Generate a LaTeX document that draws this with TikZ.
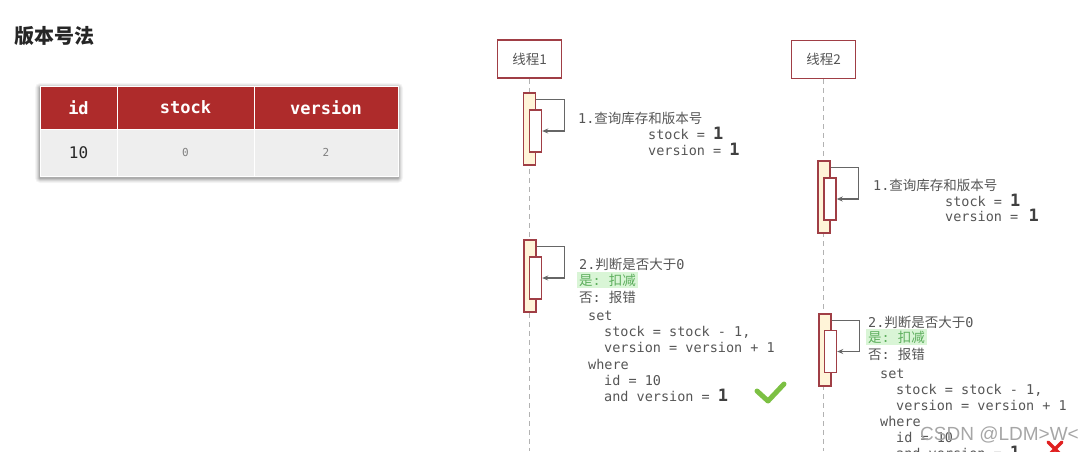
\documentclass[tikz,border=0pt]{standalone}
\usepackage{fontspec}
\setmonofont{DejaVu Sans Mono}
\newfontfamily\cjk{Noto Sans CJK SC}
\newfontfamily\wmfont{Liberation Sans}
\usetikzlibrary{arrows.meta}
\definecolor{headred}{HTML}{AE2B2B}
\definecolor{cellgray}{HTML}{EEEEEE}
\definecolor{boxred}{HTML}{A03E45}
\definecolor{barfill}{HTML}{FFF4D8}
\definecolor{codegray}{HTML}{555555}
\definecolor{okgreen}{HTML}{7CC043}
\definecolor{hlgreen}{HTML}{D9F5D6}
\definecolor{hltext}{HTML}{5DAE5D}
\definecolor{badred}{HTML}{E02020}
\newcommand{\bigone}{{\fontsize{17}{16}\selectfont\bfseries\color{black!75}1}}

\begin{document}
\begin{tikzpicture}[x=1pt, y=-1pt,
	threadbox/.style={draw=boxred, line width=1.5pt, fill=white, minimum width=64pt, minimum height=38pt, inner sep=0pt, font=\fontsize{13.5}{16}\cjk, text=codegray},
	lifeline/.style={draw=black!30, line width=1pt, dash pattern=on 5pt off 4pt},
	actouter/.style={draw=boxred, line width=1.4pt, fill=barfill, minimum width=12pt, minimum height=72pt, inner sep=0pt},
	actinner/.style={draw=boxred, line width=1.4pt, fill=white, minimum width=12pt, minimum height=42pt, inner sep=0pt},
	selfarrow/.style={draw=black!60, line width=1.2pt, -{Stealth[length=6pt,width=5pt]}},
	code/.style={anchor=base west, inner sep=0pt, text=codegray, font=\fontsize{13.5}{16}\ttfamily},
	hl/.style={code, fill=hlgreen, text=hltext, inner xsep=2pt, inner ysep=2pt},
	headcell/.style={fill=headred, draw=white, line width=0.8pt, text=white, minimum height=43pt, inner sep=0pt, font=\fontsize{17}{20}\ttfamily\bfseries},
	bodycell/.style={fill=cellgray, draw=white, line width=0.8pt, minimum height=47pt, inner sep=0pt, text=black!50, font=\fontsize{11}{13}\ttfamily}]
	\clip (0,0) rectangle (1085,451);

	% title and table
	\node[anchor=west, inner sep=0pt, font=\fontsize{20}{24}\cjk\bfseries, text=black!85] (title) at (14,36) {版本号法};
	\foreach \s/\o in {5/0.04,4/0.05,3/0.07,2/0.09,1/0.12}
		\fill[black, opacity=\o, rounded corners=\s pt] (40-\s,86-\s+2) rectangle (398+\s,176+\s+2);
	\node[headcell, minimum width=77pt] (hid) at (78.5,107.5) {id};
	\node[headcell, minimum width=137pt] (hstock) at (185.5,107.5) {stock};
	\node[headcell, minimum width=144pt] (hver) at (326,107.5) {version};
	\node[bodycell, minimum width=77pt, text=black!85, font=\fontsize{16}{18}\ttfamily] (bid) at (78.5,152.5) {10};
	\node[bodycell, minimum width=137pt] (bstock) at (185.5,152.5) {0};
	\node[bodycell, minimum width=144pt] (bver) at (326,152.5) {2};

	% threads
	\node[threadbox] (th1) at (529.5,59) {线程1};
	\node[threadbox] (th2) at (823.5,59.5) {线程2};
	\coordinate (th1end) at (529.5,451);
	\coordinate (th2end) at (823.5,451);
	\draw[lifeline] (th1.south) -- (th1end);
	\draw[lifeline] (th2.south) -- (th2end);

	% thread 1, step 1
	\node[actouter] (a1o) at (529.5,129) {};
	\node[actinner] (a1i) at (535.5,131) {};
	\draw[selfarrow] ([yshift=-7pt]a1o.north east) -- ++(28,0) |- (a1i.east);
	\node[code] (q1a) at (578,123) {1.{\cjk 查询库存和版本号}};
	\node[code] (q1b) at (648,139) {stock = \bigone};
	\node[code] (q1c) at (648,155) {version = \bigone};

	% thread 2, step 1
	\node[actouter] (b1o) at (824,197) {};
	\node[actinner] (b1i) at (830,199) {};
	\draw[selfarrow] ([yshift=-7pt]b1o.north east) -- ++(28,0) |- (b1i.east);
	\node[code] (r1a) at (873,190) {1.{\cjk 查询库存和版本号}};
	\node[code] (r1b) at (945,206) {stock = \bigone};
	\node[code] (r1c) at (945,221) {version = \,\bigone};

	% thread 1, step 2
	\node[actouter] (a2o) at (530,276) {};
	\node[actinner] (a2i) at (535.5,278) {};
	\draw[selfarrow] ([yshift=-7pt]a2o.north east) -- ++(28,0) |- (a2i.east);
	\node[code] (q2a) at (579,269) {2.{\cjk 判断是否大于}0};
	\node[hl] (q2b) at (577,285) {{\cjk 是}: {\cjk 扣减}};
	\node[code] (q2c) at (579,302) {{\cjk 否}: {\cjk 报错}};
	\node[code] (q2d) at (588,320) {set};
	\node[code] (q2e) at (604,336) {stock = stock - 1,};
	\node[code] (q2f) at (604,352) {version = version + 1};
	\node[code] (q2g) at (588,369) {where};
	\node[code] (q2h) at (604,385) {id = 10};
	\node[code] (q2i) at (604,401) {and version = \bigone};
	\draw[okgreen, line width=5pt, line cap=round, line join=round] (757,391) -- (768,401) -- (784,384);

	% thread 2, step 2
	\node[actouter] (b2o) at (825,350) {};
	\node[actinner] (b2i) at (830.5,351.5) {};
	\draw[selfarrow] ([yshift=-7pt]b2o.north east) -- ++(28,0) |- (b2i.east);
	\node[code] (r2a) at (868,327) {2.{\cjk 判断是否大于}0};
	\node[hl] (r2b) at (866,342) {{\cjk 是}: {\cjk 扣减}};
	\node[code] (r2c) at (868,359) {{\cjk 否}: {\cjk 报错}};
	\node[code] (r2d) at (880,378) {set};
	\node[code] (r2e) at (896,394) {stock = stock - 1,};
	\node[code] (r2f) at (896,410) {version = version + 1};
	\node[code] (r2g) at (880,426) {where};
	\node[code] (r2h) at (896,442) {id = 10};
	\node[code] (r2i) at (896,458) {and version = \bigone};
	\draw[badred, line width=3.5pt, line cap=round] (1048,442) -- (1062,456) (1062,442) -- (1048,456);

	\node[anchor=west, inner sep=0pt, font=\fontsize{19}{22}\wmfont, text=black!35] (wm) at (920,435) {CSDN @LDM>W<};
\end{tikzpicture}
\end{document}
